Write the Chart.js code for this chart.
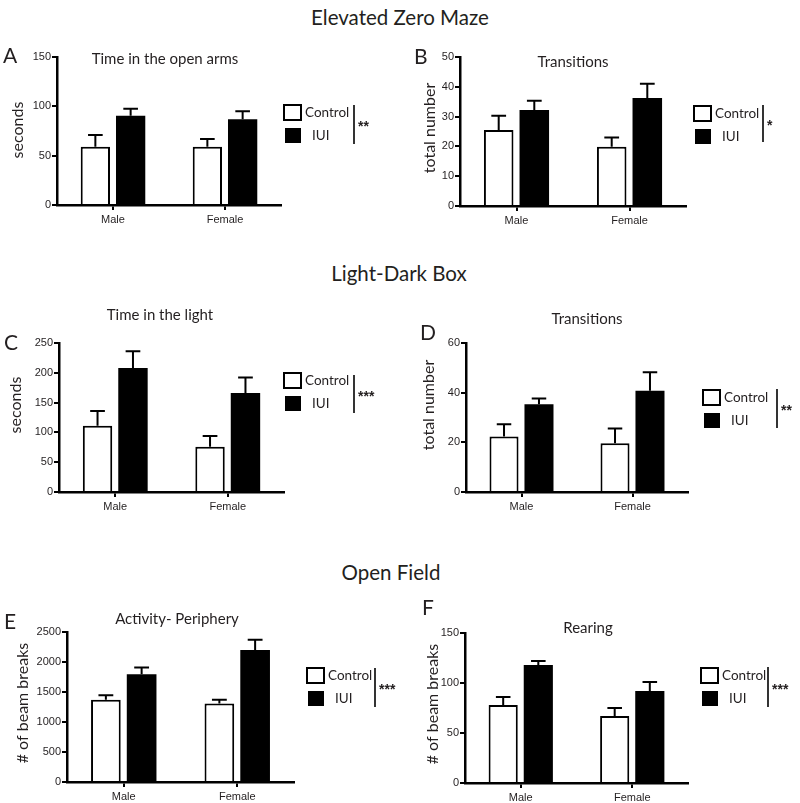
<!DOCTYPE html>
<html>
<head>
<meta charset="utf-8">
<script src="https://cdn.jsdelivr.net/npm/chart.js@4.4.1/dist/chart.umd.min.js"></script>
<style>
  html, body { margin: 0; padding: 0; background: #fff; }
  #wrap { position: relative; width: 800px; height: 803px; overflow: hidden; background: #fff; }
  canvas { position: absolute; }
  .section { position: absolute; font-family: Lato, "Open Sans", sans-serif; font-size: 20.5px; color: #231f20; white-space: nowrap; transform: translate(-50%, -50%); }
</style>
</head>
<body>
<div id="wrap">
  <div class="section" style="left:400px; top:17px;">Elevated Zero Maze</div>
  <div class="section" style="left:399px; top:273px;">Light-Dark Box</div>
  <div class="section" style="left:391px; top:572px;">Open Field</div>
</div>
<script>
// ---------------- DATA ----------------
const categories = ['Male', 'Female'];
const seriesNames = ['Control', 'IUI'];

// A: Elevated Zero Maze - Time in the open arms (seconds)
const aControl = [59, 59];
const aControlErr = [12, 8];
const aIUI = [90.5, 87];
const aIUIErr = [7, 8];
const aTicks = [0, 50, 100, 150];

// B: Elevated Zero Maze - Transitions (total number)
const bControl = [25.5, 19.9];
const bControlErr = [4.8, 3.1];
const bIUI = [32.2, 36.2];
const bIUIErr = [3.1, 4.8];
const bTicks = [0, 10, 20, 30, 40, 50];

// C: Light-Dark Box - Time in the light (seconds)
const cControl = [111, 76];
const cControlErr = [25, 18];
const cIUI = [208, 166];
const cIUIErr = [28, 26];
const cTicks = [0, 50, 100, 150, 200, 250];

// D: Light-Dark Box - Transitions (total number)
const dControl = [22.3, 19.6];
const dControlErr = [5, 6];
const dIUI = [35.3, 40.8];
const dIUIErr = [2.4, 7.4];
const dTicks = [0, 20, 40, 60];

// E: Open Field - Activity- Periphery (# of beam breaks)
const eControl = [1370, 1310];
const eControlErr = [75, 60];
const eIUI = [1795, 2200];
const eIUIErr = [113, 170];
const eTicks = [0, 500, 1000, 1500, 2000, 2500];

// F: Open Field - Rearing (# of beam breaks)
const fControl = [78, 67];
const fControlErr = [8, 8];
const fIUI = [118, 92];
const fIUIErr = [4, 9];
const fTicks = [0, 50, 100, 150];

// ---------------- LAYOUT (page pixels) ----------------
const panels = [
  { letter: 'A', title: 'Time in the open arms', yTitle: 'seconds', stars: '**',
    ctrl: aControl, ctrlErr: aControlErr, iui: aIUI, iuiErr: aIUIErr, ticks: aTicks,
    cl: 0, ct: 30, cw: 400, ch: 205, axisX: 57, topY: 57, zeroY: 205, xEnd: 281,
    titleXY: [165, 59], letterXY: [3, 56], yTitleXY: [18, 130],
    leg: { L: 283, T: 104, lineX: 354, l0: 105, l1: 144 } },
  { letter: 'B', title: 'Transitions', yTitle: 'total number', stars: '*',
    ctrl: bControl, ctrlErr: bControlErr, iui: bIUI, iuiErr: bIUIErr, ticks: bTicks,
    cl: 400, ct: 30, cw: 400, ch: 205, axisX: 460, topY: 57, zeroY: 206, xEnd: 686,
    titleXY: [573, 62], letterXY: [414, 57], yTitleXY: [430, 128],
    leg: { L: 693, T: 105, lineX: 763, l0: 105, l1: 142 } },
  { letter: 'C', title: 'Time in the light', yTitle: 'seconds', stars: '***',
    ctrl: cControl, ctrlErr: cControlErr, iui: cIUI, iuiErr: cIUIErr, ticks: cTicks,
    cl: 0, ct: 290, cw: 400, ch: 230, axisX: 59, topY: 343, zeroY: 492, xEnd: 284,
    titleXY: [160, 315], letterXY: [4, 343], yTitleXY: [16, 405],
    leg: { L: 283, T: 372, lineX: 354, l0: 375, l1: 413 } },
  { letter: 'D', title: 'Transitions', yTitle: 'total number', stars: '**',
    ctrl: dControl, ctrlErr: dControlErr, iui: dIUI, iuiErr: dIUIErr, ticks: dTicks,
    cl: 400, ct: 290, cw: 400, ch: 230, axisX: 466, topY: 343, zeroY: 492, xEnd: 688,
    titleXY: [587, 319], letterXY: [420, 333], yTitleXY: [429, 405],
    leg: { L: 702, T: 389, lineX: 777, l0: 389, l1: 428 } },
  { letter: 'E', title: 'Activity- Periphery', yTitle: '# of beam breaks', stars: '***',
    ctrl: eControl, ctrlErr: eControlErr, iui: eIUI, iuiErr: eIUIErr, ticks: eTicks,
    cl: 0, ct: 590, cw: 400, ch: 213, axisX: 67, topY: 632, zeroY: 782, xEnd: 294,
    titleXY: [177, 619], letterXY: [4, 622], yTitleXY: [23, 703],
    leg: { L: 306, T: 667, lineX: 375, l0: 668, l1: 707 } },
  { letter: 'F', title: 'Rearing', yTitle: '# of beam breaks', stars: '***',
    ctrl: fControl, ctrlErr: fControlErr, iui: fIUI, iuiErr: fIUIErr, ticks: fTicks,
    cl: 400, ct: 590, cw: 400, ch: 213, axisX: 465, topY: 633, zeroY: 783, xEnd: 688,
    titleXY: [588, 628], letterXY: [422, 608], yTitleXY: [433, 704],
    leg: { L: 700, T: 667, lineX: 768, l0: 667, l1: 707 } }
];

const TEXT = '#231f20';
const XH = 20;

function makeOverlay(p, errs) {
  return {
    id: 'overlay' + p.letter,
    afterDatasetsDraw(chart) {
      const ctx = chart.ctx;
      const yS = chart.scales.y;
      ctx.save();
      ctx.strokeStyle = '#000';
      ctx.lineWidth = 2;
      chart.data.datasets.forEach((ds, di) => {
        const meta = chart.getDatasetMeta(di);
        meta.data.forEach((bar, i) => {
          const v = ds.data[i];
          const e = errs[di][i];
          const yTop = yS.getPixelForValue(v);
          const yErr = yS.getPixelForValue(v + e);
          const half = bar.width / 4;
          ctx.beginPath();
          ctx.moveTo(bar.x, yTop);
          ctx.lineTo(bar.x, yErr);
          ctx.moveTo(bar.x - half, yErr);
          ctx.lineTo(bar.x + half, yErr);
          ctx.stroke();
        });
      });
      ctx.restore();
    },
    afterDraw(chart) {
      const ctx = chart.ctx;
      const ox = p.cl, oy = p.ct;
      ctx.save();
      ctx.fillStyle = TEXT;
      ctx.textBaseline = 'middle';
      // panel title
      ctx.font = '15px Lato, "Open Sans", sans-serif';
      ctx.textAlign = 'center';
      ctx.fillText(p.title, p.titleXY[0] - ox, p.titleXY[1] - oy);
      // panel letter
      ctx.font = '21px Lato, "Open Sans", sans-serif';
      ctx.textAlign = 'left';
      ctx.fillText(p.letter, p.letterXY[0] - ox, p.letterXY[1] - oy);
      // y title
      ctx.save();
      ctx.translate(p.yTitleXY[0] - ox, p.yTitleXY[1] - oy);
      ctx.rotate(-Math.PI / 2);
      ctx.font = '16px Lato, "Open Sans", sans-serif';
      ctx.textAlign = 'center';
      ctx.fillText(p.yTitle, 0, 0);
      ctx.restore();
      // legend
      const g = p.leg;
      const L = g.L - ox, T = g.T - oy;
      ctx.strokeStyle = '#000';
      ctx.lineWidth = 2;
      ctx.fillStyle = '#fff';
      ctx.fillRect(L + 1, T + 1, 17, 15);
      ctx.strokeRect(L + 1, T + 1, 17, 15);
      ctx.fillStyle = '#000';
      ctx.fillRect(L + 2, T + 24, 16, 15);
      ctx.fillStyle = TEXT;
      ctx.font = '13.5px Lato, "Open Sans", sans-serif';
      ctx.textAlign = 'left';
      ctx.fillText(seriesNames[0], L + 22, T + 9);
      ctx.fillText(seriesNames[1], L + 29, T + 32);
      // significance bracket
      ctx.beginPath();
      ctx.lineWidth = 1.6;
      ctx.moveTo(g.lineX - ox, g.l0 - oy);
      ctx.lineTo(g.lineX - ox, g.l1 - oy);
      ctx.stroke();
      ctx.font = 'bold 14px "Liberation Sans", Arial, sans-serif';
      ctx.fillText(p.stars, g.lineX - ox + 4, (g.l0 + g.l1) / 2 - oy + 3);
      ctx.restore();
    }
  };
}

const wrap = document.getElementById('wrap');
panels.forEach(p => {
  const cv = document.createElement('canvas');
  cv.width = p.cw; cv.height = p.ch;
  cv.style.left = p.cl + 'px'; cv.style.top = p.ct + 'px';
  cv.style.width = p.cw + 'px'; cv.style.height = p.ch + 'px';
  wrap.appendChild(cv);
  const yMax = p.ticks[p.ticks.length - 1];
  const step = p.ticks[1] - p.ticks[0];
  const tickFont = { family: '"Liberation Sans", Arial, sans-serif', size: 11 };
  new Chart(cv.getContext('2d'), {
    type: 'bar',
    data: {
      labels: categories,
      datasets: [
        { label: seriesNames[0], data: p.ctrl, backgroundColor: '#ffffff', borderColor: '#000000',
          borderWidth: 2, borderSkipped: 'start', categoryPercentage: 0.63, barPercentage: 0.83 },
        { label: seriesNames[1], data: p.iui, backgroundColor: '#000000', borderColor: '#000000',
          borderWidth: 0, categoryPercentage: 0.63, barPercentage: 0.83 }
      ]
    },
    options: {
      responsive: false, animation: false, devicePixelRatio: 1,
      layout: { padding: { left: 0, right: p.cl + p.cw - p.xEnd, top: p.topY - p.ct, bottom: p.ct + p.ch - p.zeroY - XH } },
      plugins: { legend: { display: false }, tooltip: { enabled: false }, title: { display: false } },
      scales: {
        x: {
          offset: true, z: 1,
          grid: { display: true, drawOnChartArea: false, drawTicks: true, tickLength: 5, offset: false, color: '#000', lineWidth: 2 },
          border: { display: true, color: '#000', width: 2.5 },
          ticks: { color: TEXT, font: tickFont, padding: 3, maxRotation: 0, autoSkip: false },
          afterFit: s => { s.height = XH; s.paddingLeft = 0; s.paddingRight = 0; }
        },
        y: {
          min: 0, max: yMax, z: 1,
          grid: { display: true, drawOnChartArea: false, drawTicks: true, tickLength: 5, color: '#000', lineWidth: 2 },
          border: { display: true, color: '#000', width: 2.5 },
          ticks: { stepSize: step, color: TEXT, font: tickFont, padding: 1, callback: v => String(v) },
          afterFit: s => { s.width = p.axisX - p.cl; s.paddingTop = 0; s.paddingBottom = 0; }
        }
      }
    },
    plugins: [makeOverlay(p, [p.ctrlErr, p.iuiErr])]
  });
});
</script>
</body>
</html>
